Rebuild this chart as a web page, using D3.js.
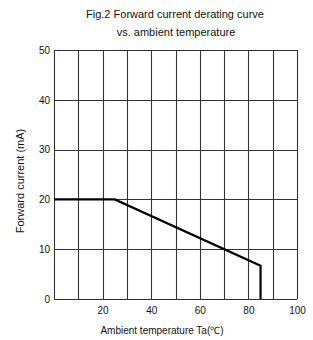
<!DOCTYPE html>
<html>
<head>
<meta charset="utf-8">
<script src="https://cdn.jsdelivr.net/npm/d3@7"></script>
<style>
  body { margin: 0; background: #fff; }
  text { font-family: "Liberation Sans", Arial, sans-serif; fill: #111; }
</style>
</head>
<body>
<script>
const margin = {top: 50, right: 16, bottom: 41, left: 54},
    width = 313 - margin.left - margin.right,
    height = 340 - margin.top - margin.bottom;

// derating curve: temperature (°C) vs forward current (mA)
const temps = [0, 25, 85, 85];
const currents = [20, 20, 6.7, 0];
const xTicks = [0, 10, 20, 30, 40, 50, 60, 70, 80, 90, 100];
const yTicks = [0, 10, 20, 30, 40, 50];
const xLabels = [20, 40, 60, 80, 100];

const data = temps.map((t, i) => ({t: t, c: currents[i]}));

const x = d3.scaleLinear().domain([0, 100]).range([0, width]);
const y = d3.scaleLinear().domain([0, 50]).range([height, 0]);

const svg = d3.select("body").append("svg")
    .attr("width", 313)
    .attr("height", 340);

svg.append("text")
    .attr("x", 175).attr("y", 18)
    .attr("text-anchor", "middle")
    .style("font-size", "11px")
    .text("Fig.2 Forward current derating curve");
svg.append("text")
    .attr("x", 176).attr("y", 36)
    .attr("text-anchor", "middle")
    .style("font-size", "11px")
    .text("vs. ambient temperature");

const g = svg.append("g")
    .attr("transform", "translate(" + margin.left + "," + margin.top + ")");

// grid
g.selectAll(".vgrid")
    .data(xTicks)
    .enter().append("line")
    .attr("x1", d => Math.round(x(d)) + 0.5)
    .attr("x2", d => Math.round(x(d)) + 0.5)
    .attr("y1", 0).attr("y2", height)
    .attr("stroke", "#333").attr("stroke-width", 1.1);
g.selectAll(".hgrid")
    .data(yTicks)
    .enter().append("line")
    .attr("y1", d => Math.round(y(d)) + 0.5)
    .attr("y2", d => Math.round(y(d)) + 0.5)
    .attr("x1", 0).attr("x2", width)
    .attr("stroke", "#333").attr("stroke-width", 1.1);

// axes labels
const xAxis = d3.axisBottom(x).tickValues(xLabels).tickSize(0).tickPadding(8);
const yAxis = d3.axisLeft(y).tickValues(yTicks).tickSize(0).tickPadding(4);

g.append("g")
    .attr("transform", "translate(0," + height + ")")
    .call(xAxis)
    .call(a => a.select(".domain").remove())
    .selectAll("text").style("font-size", "10px").attr("fill", "#111");

g.append("g")
    .call(yAxis)
    .call(a => a.select(".domain").remove())
    .selectAll("text").style("font-size", "10px").attr("fill", "#111");

// curve
g.append("path")
    .datum(data)
    .attr("fill", "none")
    .attr("stroke", "#000")
    .attr("stroke-width", 2.2)
    .attr("stroke-linejoin", "miter")
    .attr("d", d3.line().x(d => x(d.t)).y(d => y(d.c)));

svg.append("text")
    .attr("x", 162).attr("y", 334)
    .attr("text-anchor", "middle")
    .style("font-size", "10px")
    .text("Ambient temperature Ta(\u2103)");

svg.append("text")
    .attr("transform", "translate(24," + 181 + ") rotate(-90)")
    .attr("text-anchor", "middle")
    .style("font-size", "11px")
    .text("Forward current (mA)");
</script>
</body>
</html>
